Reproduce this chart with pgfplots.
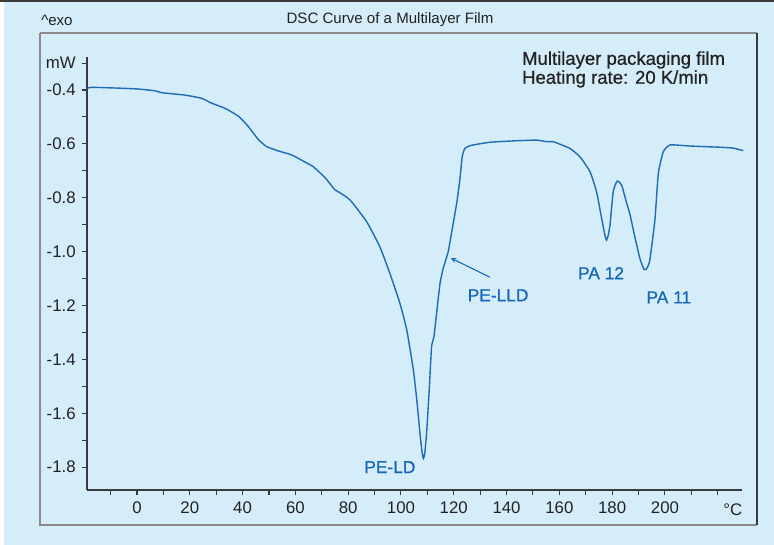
\documentclass[border=0pt]{standalone}
\usepackage{pgfplots}
\pgfplotsset{compat=1.18}
\usepackage{fontspec}
\setmainfont{Liberation Sans}
\newfontfamily\medfont[FakeBold=0.7]{Liberation Sans}
\definecolor{bg}{HTML}{D5ECF9}
\definecolor{curve}{HTML}{1E6BB8}
\definecolor{lbl}{HTML}{1565B8}
\definecolor{axgray}{HTML}{3A3A3A}
\definecolor{txt}{HTML}{222222}
\definecolor{framegray}{HTML}{8A8A8A}
\begin{document}
\begin{tikzpicture}
\useasboundingbox (0,0) rectangle ({774*0.75pt},{-545*0.75pt});
\fill[bg] (0,0) rectangle ({774*0.75pt},{-545*0.75pt});
\fill[white] (0,0) rectangle ({4*0.75pt},{-545*0.75pt});
\fill[axgray] (0,0) rectangle ({774*0.75pt},{-2*0.75pt});
\draw[framegray, line width=0.9pt] ({40*0.75pt},{-33*0.75pt}) -- ({757*0.75pt},{-33*0.75pt});
\draw[framegray, line width=0.9pt] ({40*0.75pt},{-33*0.75pt}) -- ({40*0.75pt},{-525*0.75pt}) -- ({757*0.75pt},{-525*0.75pt});
\draw[axgray, line width=1.1pt] ({757*0.75pt},{-33*0.75pt}) -- ({757*0.75pt},{-525*0.75pt});
\node[txt, font=\fontsize{11.3}{13}\selectfont] at ({390*0.75pt},{-20*0.75pt}) {DSC Curve of a Multilayer Film};
\node[txt, anchor=west, inner sep=0pt, font=\fontsize{11.3}{13}\selectfont] at ({41*0.75pt},{-20*0.75pt}) {\textasciicircum exo};
\begin{axis}[
  at={({87*0.75pt},{-490*0.75pt})}, anchor=south west,
  scale only axis, width={655*0.75pt}, height={433*0.75pt},
  xmin=-18.94, xmax=229.2, ymin=-1.885, ymax=-0.2775,
  axis lines=left, axis line style={-, draw=axgray, line width=1.1pt},
  xtick={0,20,40,60,80,100,120,140,160,180,200,220},
  xticklabels={0,20,40,60,80,100,120,140,160,180,200,{}},
  minor xtick={-10,10,30,50,70,90,110,130,150,170,190,210},
  ytick={-1.8,-1.6,-1.4,-1.2,-1.0,-0.8,-0.6,-0.4,-0.3},
  yticklabels={-1.8,-1.6,-1.4,-1.2,-1.0,-0.8,-0.6,-0.4,mW},
  minor ytick={-1.7,-1.5,-1.3,-1.1,-0.9,-0.7,-0.5},
  tick align=outside, major tick length=4pt, minor tick length=3.5pt,
  tick style={draw=axgray, line width=0.8pt},
  ticklabel style={font=\fontsize{12.6}{14}\selectfont, text=txt},
  xticklabel style={yshift=-1pt},
  yticklabel style={xshift=-1pt},
  clip=false,
]
\addplot[curve, line width=1.05pt, smooth, tension=0.3] coordinates {
(-18.9,-0.394) (-17.2,-0.390) (-7.2,-0.393) (0,-0.396) (6.8,-0.403) (9.4,-0.410)
(18.2,-0.419) (24.5,-0.431) (28.3,-0.449) (33.3,-0.468) (38.4,-0.497) (42.2,-0.536)
(45.9,-0.583) (49.1,-0.610) (53.5,-0.626) (58.6,-0.641) (63.0,-0.664) (66.8,-0.685)
(71.2,-0.725) (75.0,-0.771) (76.3,-0.778) (80.7,-0.808) (87.0,-0.889) (92.0,-0.982)
(95.8,-1.081) (99.6,-1.192) (102.2,-1.291) (104.7,-1.440) (106.0,-1.551) (107.2,-1.675)
(108.0,-1.745) (108.5,-1.768) (109.0,-1.750) (109.7,-1.675) (110.7,-1.514) (111.6,-1.353)
(112.5,-1.316) (113.5,-1.229) (114.8,-1.118) (116.0,-1.062) (117.9,-1.000) (119.8,-0.895)
(121.1,-0.821) (122.3,-0.734) (123.2,-0.648) (124.2,-0.617) (126.1,-0.607) (127.4,-0.604)
(133.7,-0.594) (142.5,-0.589) (151.4,-0.586) (155.2,-0.592) (157.7,-0.592) (164.0,-0.617)
(167.8,-0.648) (171.6,-0.703) (174.1,-0.778) (176.0,-0.876) (177.4,-0.945) (177.9,-0.957)
(178.5,-0.940) (179.2,-0.901) (180.4,-0.778) (181.9,-0.738) (183.6,-0.753) (185.5,-0.820)
(186.7,-0.860) (188.6,-0.945) (190.5,-1.025) (192.0,-1.065) (192.6,-1.067) (193.4,-1.058)
(194.3,-1.030) (196.2,-0.883) (197.5,-0.709) (199.4,-0.629) (202.0,-0.604) (209.5,-0.608)
(222.0,-0.613) (226.0,-0.616) (229.7,-0.625)
};
\node[lbl, font=\medfont\fontsize{13}{15}\selectfont] at (axis cs:95.8,-1.80) {PE-LD};
\node[lbl, font=\medfont\fontsize{13}{15}\selectfont] at (axis cs:136.8,-1.162) {PE-LLD};
\node[lbl, font=\medfont\fontsize{13}{15}\selectfont] at (axis cs:175.8,-1.08) {PA 12};
\node[lbl, font=\medfont\fontsize{13}{15}\selectfont] at (axis cs:201.5,-1.17) {PA 11};
\draw[lbl, line width=0.8pt, -{stealth}] (axis cs:133.7,-1.095) -- (axis cs:118.9,-1.024);
\node[txt, anchor=west, inner sep=0pt, font=\medfont\fontsize{13.9}{16}\selectfont] at (axis cs:145.8,-0.2886) {Multilayer packaging film};
\node[txt, anchor=west, inner sep=0pt, font=\medfont\fontsize{13.9}{16}\selectfont] at (axis cs:145.8,-0.359) {Heating rate: 20 K/min};
\node[txt, font=\fontsize{12.6}{14}\selectfont] at ({rel axis cs:0,0}-|{axis cs:225.7,0}) [yshift={-20*0.75pt}] {°C};
\end{axis}
\end{tikzpicture}
\end{document}
